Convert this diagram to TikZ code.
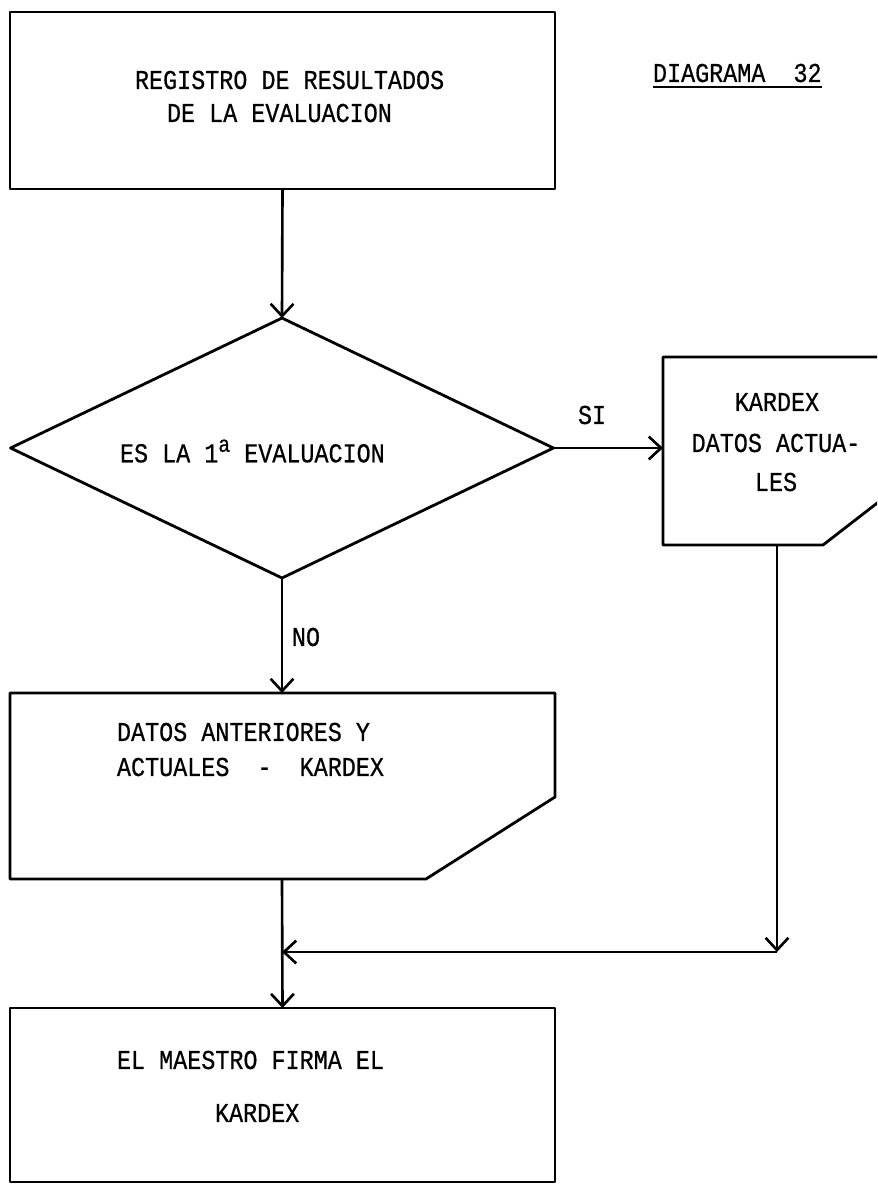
\documentclass[tikz,border=0pt]{standalone}
\usepackage{fontspec}
\setmonofont[FakeStretch=0.86,FakeBold=0.6]{Liberation Mono}
\usetikzlibrary{arrows.meta,shapes.geometric}
\begin{document}
\begin{tikzpicture}[x=0.02cm,y=-0.02cm,
  line width=1.6pt, line join=round,
  box/.style={draw, rectangle, inner sep=0pt, outer sep=0pt, line width=1.6pt},
  decision/.style={draw, diamond, aspect=1, inner sep=0pt, outer sep=0pt, line width=1.6pt},
  lbl/.style={font=\ttfamily\fontsize{15.5}{15.5}\selectfont, inner sep=0pt, outer sep=0pt},
  flow/.style={-{Straight Barb[length=7pt,width=13pt,line width=1.5pt]}, line width=1.5pt}]
\useasboundingbox (0,0) rectangle (877,1188);
\clip (0,0) rectangle (877,1188);
\fill[white] (0,0) rectangle (877,1188);

% process: record of results
\node[box, minimum width=10.9cm, minimum height=3.54cm] (reg) at (282.5,100.5) {};
\node[lbl, anchor=west] (reg1) at (135,80) {REGISTRO DE RESULTADOS};
\node[lbl, anchor=west] (reg2) at (167,113) {DE LA EVALUACION};

% title
\node[lbl, anchor=west] (title) at (653,73) {DIAGRAMA~~32};
\draw[line width=1.3pt] ([yshift=-0.1cm]title.south west) -- ([yshift=-0.1cm]title.south east);

% decision
\node[decision, minimum width=10.86cm, minimum height=5.2cm] (dec) at (282,448) {};
\node[lbl, anchor=west] (dect) at (120,451) {ES LA 1\raisebox{6pt}{\fontsize{13}{13}\selectfont a} EVALUACION};

% card: current data
\draw (663,357) -- (885,357) -- (885,497) -- (823,545) -- (663,545) -- cycle;
\coordinate (kin) at (663,448);
\coordinate (kout) at (777,545);
\node[lbl] (k1) at (777,402) {KARDEX};
\node[lbl] (k2) at (776,443) {DATOS ACTUA-};
\node[lbl] (k3) at (776,482) {LES};

% card: previous and current data
\draw (10,693) -- (555,693) -- (555,797) -- (426,879) -- (10,879) -- cycle;
\coordinate (cin) at (282,693);
\coordinate (cout) at (282,879);
\node[lbl, anchor=west] (c1) at (117,732) {DATOS ANTERIORES Y};
\node[lbl, anchor=west] (c2) at (117,767) {ACTUALES~~-~~KARDEX};

% process: teacher signs
\node[box, minimum width=10.9cm, minimum height=3.48cm] (fin) at (282.5,1095) {};
\node[lbl, anchor=west] (f1) at (117,1060) {EL MAESTRO FIRMA EL};
\node[lbl, anchor=west] (f2) at (215,1113) {KARDEX};

% junction
\coordinate (jr) at (777,952);
\coordinate (jl) at (282,952);

% connectors
\draw[flow] (reg.south) -- (dec.north);
\draw[flow] (dec.east) -- (kin);
\node[lbl] (si) at (592,415) {SI};
\draw[flow] (dec.south) -- (cin);
\node[lbl] (no) at (306,637) {NO};
\draw[flow] (kout) -- (jr);
\draw[flow] (jr) -- (jl);
\draw[flow] (cout) -- (fin.north);
\end{tikzpicture}
\end{document}
